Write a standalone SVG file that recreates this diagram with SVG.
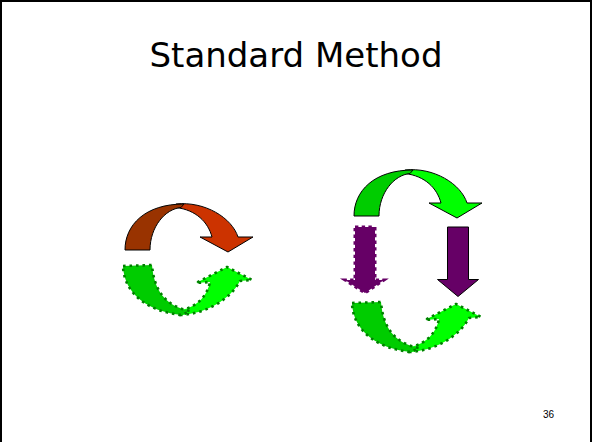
<svg xmlns="http://www.w3.org/2000/svg" width="592" height="442" viewBox="0 0 592 442">
<style>
.solid{stroke:#000;stroke-width:1;stroke-linejoin:round}
.gdot{stroke:#008000;stroke-width:2.6;stroke-dasharray:2.6 3.9;stroke-linejoin:round}
.pdot{stroke:#660066;stroke-width:3;stroke-dasharray:3.4 3.3}
.title{font-family:"DejaVu Sans",sans-serif;font-size:34px;fill:#000}
.num{font-family:"Liberation Sans",Arial,sans-serif;font-size:10px;fill:#000}
</style>
<rect width="592" height="442" fill="#fff"/>
<path d="M1,442 V1 H591 V442" fill="none" stroke="#000" stroke-width="2"/>
<g id="title"><text class="title" x="296" y="67" text-anchor="middle" textLength="293" lengthAdjust="spacingAndGlyphs">Standard Method</text></g>
<g id="red-arrow">
<path class="solid" fill="#CC3300" d="M176,204 C205,201 232,218 238,237 L253,237 L228,252 L200,237 L212,237 C208,222 196,210 176,207.5 Z"/>
<path class="solid" fill="#993300" d="M125,250 C125,225 145,204 184,204 L181,207.5 C165,209 150,227 150,250 Z"/>
</g>
<g id="green-arrow-left">
<path class="gdot" fill="#00FF00" d="M180,315 C205,314 230,300 240,281 L252,280 L227,267 L196,283 L210,282 C207,296 198,306 182,310 Z"/>
<path class="gdot" fill="#00CC00" d="M123,266 L152,265 C154,290 165,306 190,311 L182,315 C150,312 124,295 123,266 Z"/>
</g>
<g id="green-arrow-top" transform="translate(229,-34)">
<path class="solid" fill="#00FF00" d="M176,204 C205,201 232,218 238,237 L253,237 L228,252 L200,237 L212,237 C208,222 196,210 176,207.5 Z"/>
<path class="solid" fill="#00CC00" d="M125,250 C125,225 145,204 184,204 L181,207.5 C165,209 150,227 150,250 Z"/>
</g>
<g id="purple-arrow-left">
<path class="pdot" fill="#660066" d="M355,227 H375 V280 H384 L365,293 L345,280 H355 Z"/>
</g>
<g id="purple-arrow-right">
<path class="solid" fill="#660066" d="M447.5,227 H468.5 V279.5 H478.5 L458,296.5 L437.5,279.5 H447.5 Z"/>
</g>
<g id="green-arrow-right" transform="translate(229,37)">
<path class="gdot" fill="#00FF00" d="M180,315 C205,314 230,300 240,281 L252,280 L227,267 L196,283 L210,282 C207,296 198,306 182,310 Z"/>
<path class="gdot" fill="#00CC00" d="M123,266 L152,265 C154,290 165,306 190,311 L182,315 C150,312 124,295 123,266 Z"/>
</g>
<g id="connectors"></g>
<g id="page-number"><text class="num" x="543" y="418">36</text></g>
</svg>
